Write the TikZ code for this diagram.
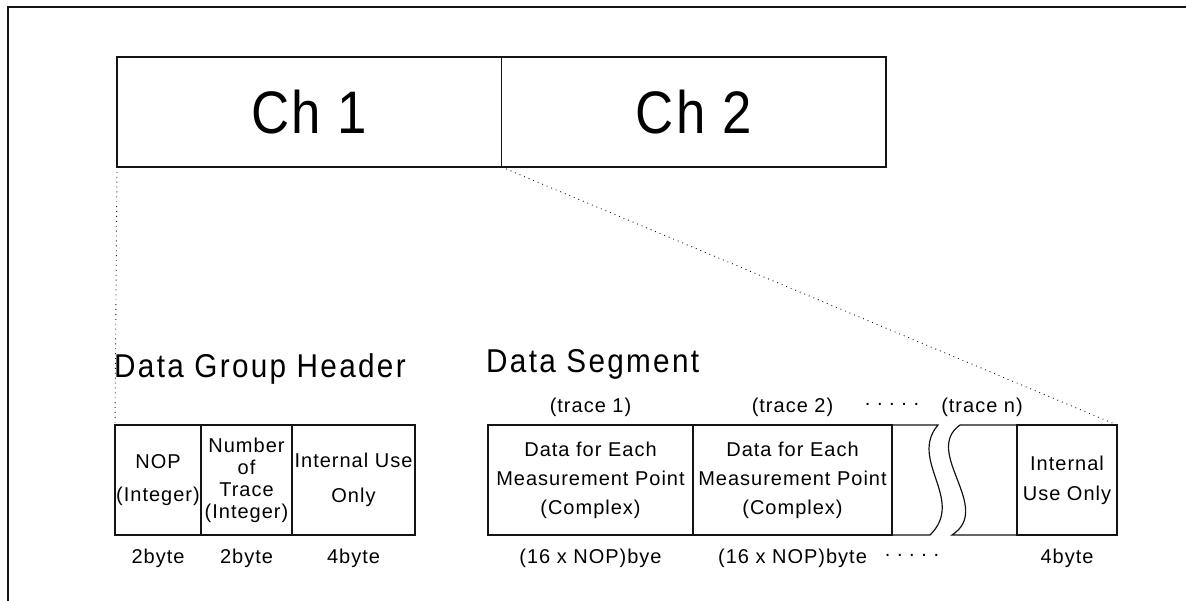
\documentclass[tikz,border=0pt]{standalone}
\usepackage{fontspec}
\setmainfont{Liberation Sans}
\newfontfamily\plotfont[LetterSpace=5]{Liberation Sans}
\newfontfamily\bigfont[FakeStretch=0.88,LetterSpace=4]{Liberation Sans}
\newfontfamily\ttlfont[FakeStretch=0.9,LetterSpace=7]{Liberation Sans}
\usepackage{tikz}
\usetikzlibrary{positioning,calc}
\definecolor{plotink}{RGB}{20, 20, 20}
\tikzset{
  chbox/.style={draw=plotink,line width=1.2pt,outer sep=0pt,minimum width=384.5pt,
                minimum height=110pt,font=\bigfont\fontsize{60}{64}\selectfont},
  cell/.style={draw=plotink,line width=1.2pt,outer sep=0pt,minimum height=110pt,
               align=center,inner sep=0pt,font=\plotfont\fontsize{20}{22}\selectfont},
  lbl/.style={inner sep=0pt,font=\plotfont\fontsize{20}{22}\selectfont},
  ttl/.style={inner sep=0pt,anchor=base west,font=\ttlfont\fontsize{33}{35}\selectfont},
  zoomline/.style={plotink,line width=0.9pt,dash pattern=on 0.9pt off 4pt},
  brkline/.style={plotink,line width=1.2pt},
}
\begin{document}
\begin{tikzpicture}[x=1pt,y=-1pt]
        \useasboundingbox (0,0) rectangle (1186,601);
        % page frame
        \draw[plotink,line width=1.6pt] (8,601) -- (8,7) -- (1186,7);
        % channels
        \node[chbox,anchor=north west] (ch1) at (117,57) {Ch 1};
        \node[chbox,right=0pt of ch1] (ch2) {Ch 2};
        % data group header
        \node[ttl] (dgh) at (114,378) {Data Group Header};
        \node[cell,anchor=north west,minimum width=86pt] (nop) at (115,425) {NOP\\[11pt](Integer)};
        \node[cell,right=0pt of nop,minimum width=91pt] (ntr) {Number\\of\\Trace\\(Integer)};
        \node[cell,right=0pt of ntr,minimum width=123pt] (hint) {Internal Use\\[13pt]Only};
        \node[lbl,below=14pt of nop] (bnop) {2byte};
        \node[lbl,below=14pt of ntr] (bntr) {2byte};
        \node[lbl,below=14pt of hint] (bhint) {4byte};
        % data segment
        \node[ttl] (dseg) at (486,373) {Data Segment};
        \node[cell,anchor=north west,minimum width=205pt] (tr1) at (488,425)
          {Data for Each\\[7pt]Measurement Point\\[7pt](Complex)};
        \node[cell,right=0pt of tr1,minimum width=199pt] (tr2)
          {Data for Each\\[7pt]Measurement Point\\[7pt](Complex)};
        \node[cell,anchor=north east,minimum width=100pt] (sint) at (1117,425)
          {Internal\\[8pt]Use Only};
        % broken part
        \coordinate (bkA) at (938,425);
        \coordinate (bkB) at (930,535);
        \coordinate (bkC) at (960,425);
        \coordinate (bkD) at (952,535);
        \draw[brkline] (tr2.north east) -- (bkA)
          .. controls (908,460) and (966,500) .. (bkB) -- (tr2.south east);
        \draw[brkline] (sint.north west) -- (bkC)
          .. controls (922,452) and (994,508) .. (bkD) -- (sint.south west);
        % trace labels
        \node[lbl,above=8pt of tr1] (t1) {(trace 1)};
        \node[lbl,above=8pt of tr2] (t2) {(trace 2)};
        \node[lbl] (tdots) at (892,404) {.\,\,.\,\,.\,\,.\,\,.};
        \node[lbl] (tn) at (982,407) {(trace n)};
        % byte labels
        \node[lbl,below=14pt of tr1] (b1) {(16 x NOP)bye};
        \node[lbl,below=14pt of tr2] (b2) {(16 x NOP)byte};
        \node[lbl] (bdots) at (912,555) {.\,\,.\,\,.\,\,.\,\,.};
        \node[lbl,below=14pt of sint] (bint) {4byte};
        % zoom lines
        \draw[zoomline] (ch1.south west) -- (nop.north west);
        \draw[zoomline] (ch1.south east) -- (sint.north east);
\end{tikzpicture}
\end{document}
